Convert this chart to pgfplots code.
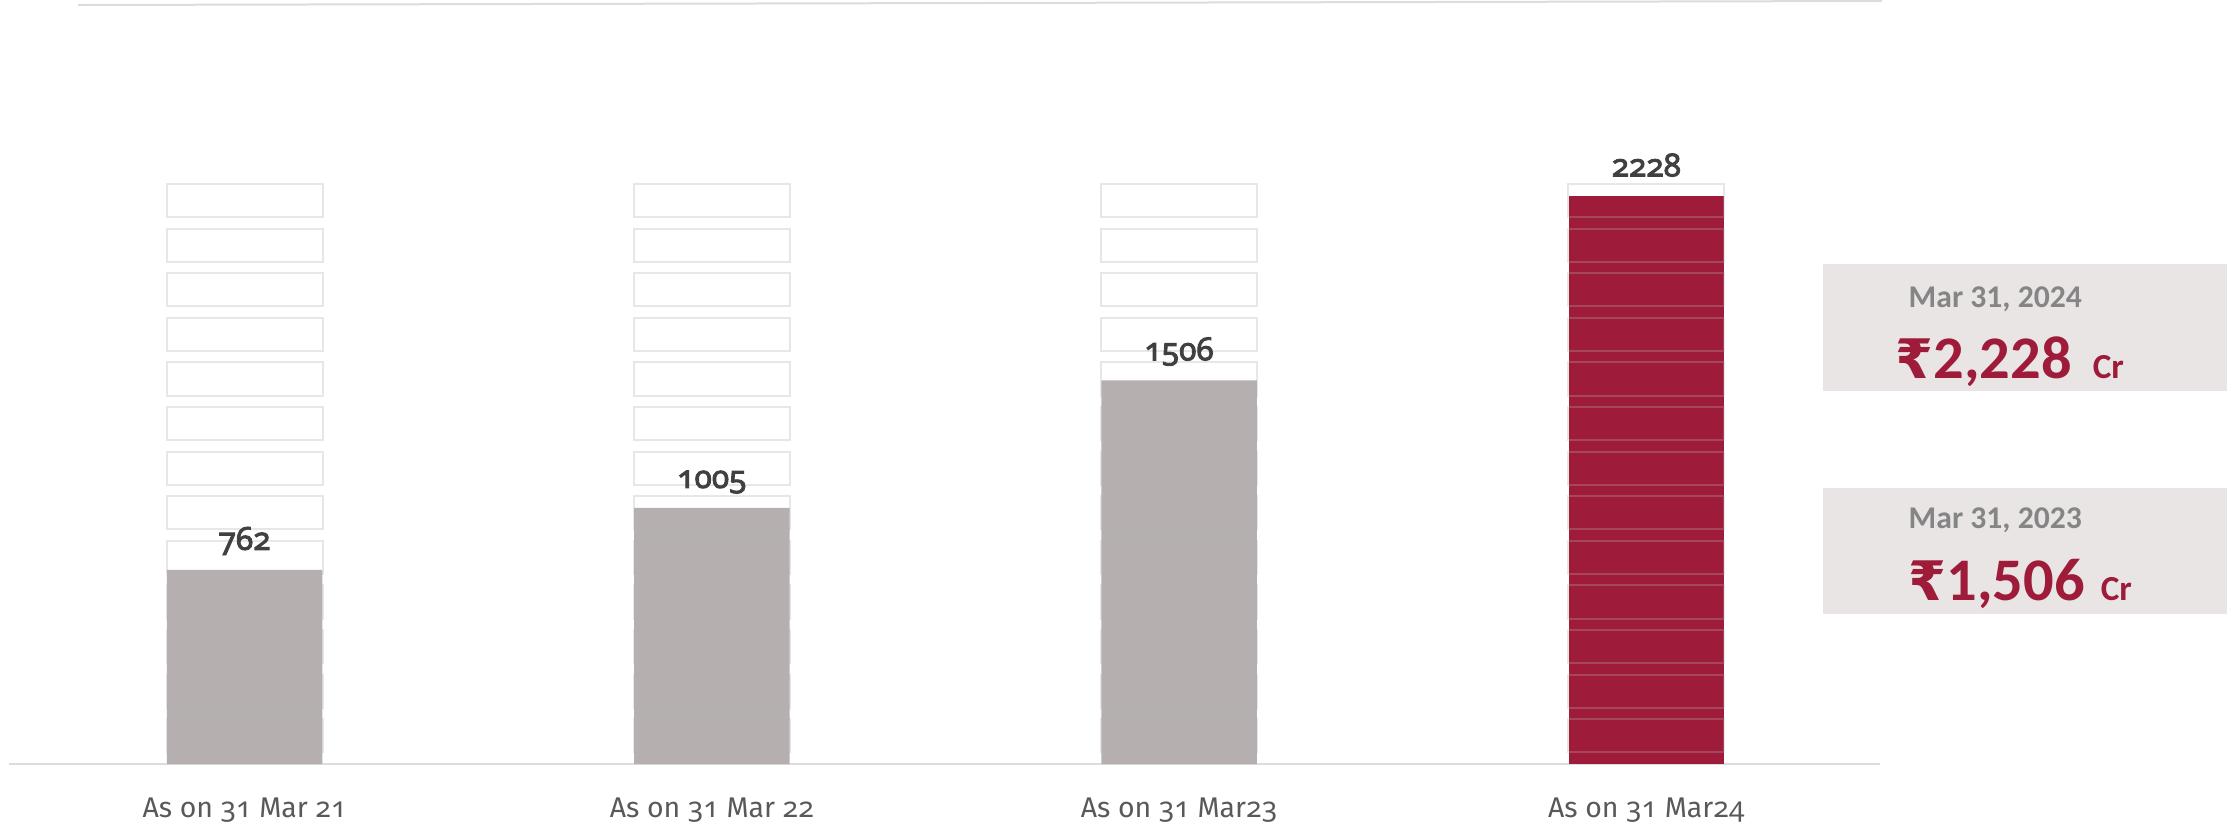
\documentclass[border=0pt]{standalone}
\usepackage{fontspec}
\setmainfont{Fira Sans}
\newfontfamily\oldnum{Noto Sans}[Numbers=OldStyle]
\newfontfamily\oldnumbf{Noto Sans}[Numbers=OldStyle, FakeBold=2.8]
\newfontfamily\carlito{Carlito}
\newfontfamily\rupeefont{DejaVu Sans}
\usepackage{pgfplots}
\pgfplotsset{compat=1.18}

\definecolor{barGray}{HTML}{B5AFB0}
\definecolor{barRed}{HTML}{9E1B3A}
\definecolor{valText}{HTML}{404040}
\definecolor{tickText}{HTML}{595959}
\definecolor{cardFill}{HTML}{E9E5E5}
\definecolor{cardDate}{HTML}{858585}
\definecolor{ruleGray}{HTML}{DCDCDC}
\definecolor{slot}{HTML}{B4B0B0}

\newcommand{\asOn}[2]{As on {\oldnum 31} Mar#1{\oldnum #2}}

\begin{document}
\begin{tikzpicture}
% frame in 0.1 mm units, y running downwards
\begin{scope}[x=0.1mm,y=-0.1mm]
  \coordinate (origin) at (11,764);
  \draw[ruleGray, line width=0.25mm] (9,764) -- (1880,764);
  \draw[ruleGray, line width=0.2mm] (78,5) -- (1882,1);
  % summary cards
  \fill[cardFill] (1823,264) rectangle (2227,391);
  \fill[cardFill] (1823,488) rectangle (2227,614);
  \node[anchor=base west, inner sep=0pt, text=cardDate] at (1908,307)
    {\carlito\bfseries\fontsize{9}{11}\selectfont Mar 31, 2024};
  \node[anchor=base west, inner sep=0pt, text=barRed] at (1895,378)
    {{\rupeefont\bfseries\fontsize{15.5}{20}\selectfont ₹}{\carlito\bfseries\fontsize{17.2}{20}\selectfont 2,228}\hspace{2.1mm}{\carlito\bfseries\fontsize{10}{11}\selectfont Cr}};
  \node[anchor=base west, inner sep=0pt, text=cardDate] at (1908,528)
    {\carlito\bfseries\fontsize{9}{11}\selectfont Mar 31, 2023};
  \node[anchor=base west, inner sep=0pt, text=barRed] at (1908,600)
    {{\rupeefont\bfseries\fontsize{15.5}{20}\selectfont ₹}{\carlito\bfseries\fontsize{17.2}{20}\selectfont 1,506}\hspace{1.6mm}{\carlito\bfseries\fontsize{10}{11}\selectfont Cr}};
\end{scope}

\begin{axis}[
  at={(origin)}, anchor=south west,
  scale only axis, width=186.9mm, height=75.9mm,
  xmin=-0.5, xmax=3.5, ymin=0, ymax=2979,
  axis line style={draw=none},
  ytick=\empty,
  xtick={0,1,2,3},
  xticklabels={\asOn{ }{21}, \asOn{ }{22}, \asOn{}{23}, \asOn{}{24}},
  xtick style={draw=none},
  xticklabel style={font=\fontsize{8.1}{10}\selectfont, text=tickText,
    anchor=base, yshift=-3.8mm, inner sep=0pt},
  ybar, bar width=0.333,
  point meta=explicit symbolic,
  nodes near coords,
  nodes near coords style={font=\oldnumbf\fontsize{9}{10}\selectfont,
    text=valText, anchor=base, yshift=2mm, inner sep=0pt},
  clip=false,
]
\addplot[fill=barGray, draw=none, bar shift=0pt]
  coordinates {(0,762) [762] (1,1005) [1005] (2,1506) [1506]};
\addplot[fill=barRed, draw=none, bar shift=0pt]
  coordinates {(3,2228) [2228]};
% stacked slot outlines over each column
\pgfplotsextra{%
  \foreach \i in {0,...,3}{%
    \foreach \k in {0,...,12}{%
      \pgfmathsetmacro{\xa}{\i-0.167}%
      \pgfmathsetmacro{\xb}{\i+0.167}%
      \pgfmathsetmacro{\ya}{2276-175*\k}%
      \pgfmathsetmacro{\yb}{2276-175*\k-130}%
      \draw[draw=slot, draw opacity=0.3, line width=0.2mm]
        (axis cs:\xa,\ya) rectangle (axis cs:\xb,\yb);
    }%
  }%
}
\end{axis}

\pgfresetboundingbox
\begin{scope}[x=0.1mm,y=-0.1mm]
  \useasboundingbox (0,0) rectangle (2236,827);
\end{scope}
\end{tikzpicture}
\end{document}
